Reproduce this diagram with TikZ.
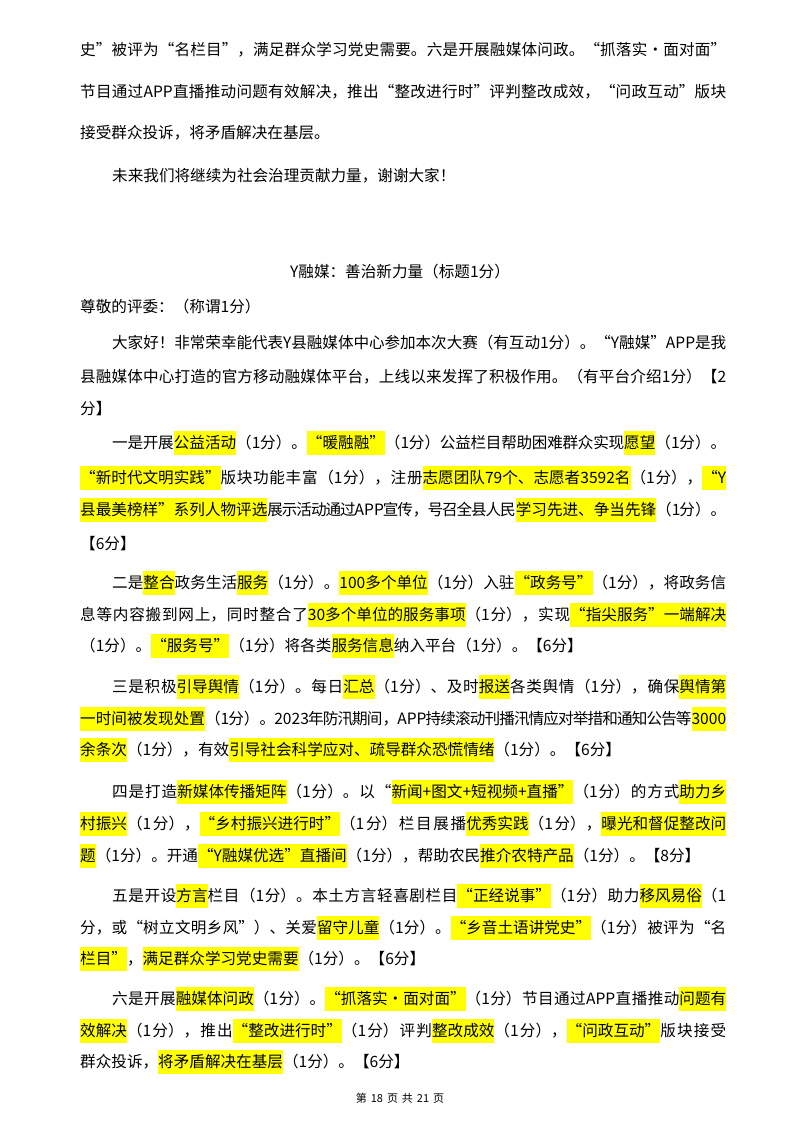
\documentclass[tikz,border=0pt]{standalone}
\usepackage{fontspec}
\setmainfont{Noto Sans CJK SC}
\XeTeXlinebreaklocale "zh"
\XeTeXlinebreakskip=0pt plus 4pt minus 2pt
\definecolor{hly}{HTML}{FFFF00}
\newcommand{\hl}[1]{{\setlength\fboxsep{0pt}\colorbox{hly}{\rule[-6.5pt]{0pt}{24pt}#1}}}
\newcommand{\jl}[2]{\parbox{#1}{\parfillskip=0pt\relax\tolerance=10000\hbadness=10000 #2\par}}
\tikzset{ln/.style={anchor=base west,inner sep=0pt,font=\fontsize{15.6}{18}\selectfont}}
\begin{document}
\begin{tikzpicture}[x=1pt,y=-1pt]
\useasboundingbox[fill=white] (0,0) rectangle (800,1132);
\node[ln] (a1) at (80,53) {\jl{646pt}{史”被评为“名栏目”，满足群众学习党史需要。六是开展融媒体问政。“抓落实·面对面”}};
\node[ln] (a2) at (80,95) {\jl{646pt}{节目通过APP直播推动问题有效解决，推出“整改进行时”评判整改成效，“问政互动”版块}};
\node[ln] (a3) at (80,138) {接受群众投诉，将矛盾解决在基层。};
\node[ln] (a4) at (112,181) {未来我们将继续为社会治理贡献力量，谢谢大家！};
\node[ln,anchor=base] (t) at (400,277) {Y融媒：善治新力量（标题1分）};
\node[ln] (b1) at (80,312) {尊敬的评委：（称谓1分）};
\node[ln] (c1) at (112,346) {\jl{614pt}{大家好！非常荣幸能代表Y县融媒体中心参加本次大赛（有互动1分）。“Y融媒”APP是我}};
\node[ln] (c2) at (80,380) {\jl{646pt}{县融媒体中心打造的官方移动融媒体平台，上线以来发挥了积极作用。（有平台介绍1分）【2}};
\node[ln] (c3) at (80,414) {分】};
\node[ln] (d1) at (112,447) {\jl{614pt}{一是开展\hl{公益活动}（1分）。\hl{“暖融融”}（1分）公益栏目帮助困难群众实现\hl{愿望}（1分）。}};
\node[ln] (d2) at (80,482) {\jl{646pt}{\hl{“新时代文明实践”}版块功能丰富（1分），注册\hl{志愿团队79个、志愿者3592名}（1分），\hl{“Y}}};
\node[ln] (d3) at (80,514) {\jl{646pt}{\hl{县最美榜样”系列人物评选}展示活动通过APP宣传，号召全县人民\hl{学习先进、争当先锋}（1分）。}};
\node[ln] (d4) at (80,549) {【6分】};
\node[ln] (e1) at (112,587) {\jl{614pt}{二是\hl{整合}政务生活\hl{服务}（1分）。\hl{100多个单位}（1分）入驻\hl{“政务号”}（1分），将政务信}};
\node[ln] (e2) at (80,619) {\jl{646pt}{息等内容搬到网上，同时整合了\hl{30多个单位的服务事项}（1分），实现\hl{“指尖服务”一端解决}}};
\node[ln] (e3) at (80,651) {（1分）。\hl{“服务号”}（1分）将各类\hl{服务信息}纳入平台（1分）。【6分】};
\node[ln] (f1) at (112,691) {\jl{614pt}{三是积极\hl{引导舆情}（1分）。每日\hl{汇总}（1分）、及时\hl{报送}各类舆情（1分），确保\hl{舆情第}}};
\node[ln] (f2) at (80,723) {\jl{646pt}{\hl{一时间被发现处置}（1分）。2023年防汛期间，APP持续滚动刊播汛情应对举措和通知公告等\hl{3000}}};
\node[ln] (f3) at (80,755) {\hl{余条次}（1分），有效\hl{引导社会科学应对、疏导群众恐慌情绪}（1分）。【6分】};
\node[ln] (g1) at (112,796) {\jl{614pt}{四是打造\hl{新媒体传播矩阵}（1分）。以“\hl{新闻+图文+短视频+直播”}（1分）的方式\hl{助力乡}}};
\node[ln] (g2) at (80,828) {\jl{646pt}{\hl{村振兴}（1分），\hl{“乡村振兴进行时”}（1分）栏目展播\hl{优秀实践}（1分），\hl{曝光和督促整改问}}};
\node[ln] (g3) at (80,861) {\hl{题}（1分）。开通\hl{“Y融媒优选”直播间}（1分），帮助农民\hl{推介农特产品}（1分）。【8分】};
\node[ln] (h1) at (112,900) {\jl{614pt}{五是开设\hl{方言}栏目（1分）。本土方言轻喜剧栏目\hl{“正经说事”}（1分）助力\hl{移风易俗}（1}};
\node[ln] (h2) at (80,932) {\jl{646pt}{分，或“树立文明乡风”）、关爱\hl{留守儿童}（1分）。\hl{“乡音土语讲党史”}（1分）被评为“名}};
\node[ln] (h3) at (80,964) {\hl{栏目”}，\hl{满足群众学习党史需要}（1分）。【6分】};
\node[ln] (i1) at (112,1003) {\jl{614pt}{六是开展\hl{融媒体问政}（1分）。\hl{“抓落实·面对面”}（1分）节目通过APP直播推动\hl{问题有}}};
\node[ln] (i2) at (80,1035) {\jl{646pt}{\hl{效解决}（1分），推出\hl{“整改进行时”}（1分）评判\hl{整改成效}（1分），\hl{“问政互动”}版块接受}};
\node[ln] (i3) at (80,1067) {群众投诉，\hl{将矛盾解决在基层}（1分）。【6分】};
\node[ln,anchor=base,font=\fontsize{11}{13}\selectfont] (ft) at (400,1102) {第\hspace{4pt}18\hspace{4pt}页\hspace{4pt}共\hspace{4pt}21\hspace{4pt}页};
\end{tikzpicture}
\end{document}
